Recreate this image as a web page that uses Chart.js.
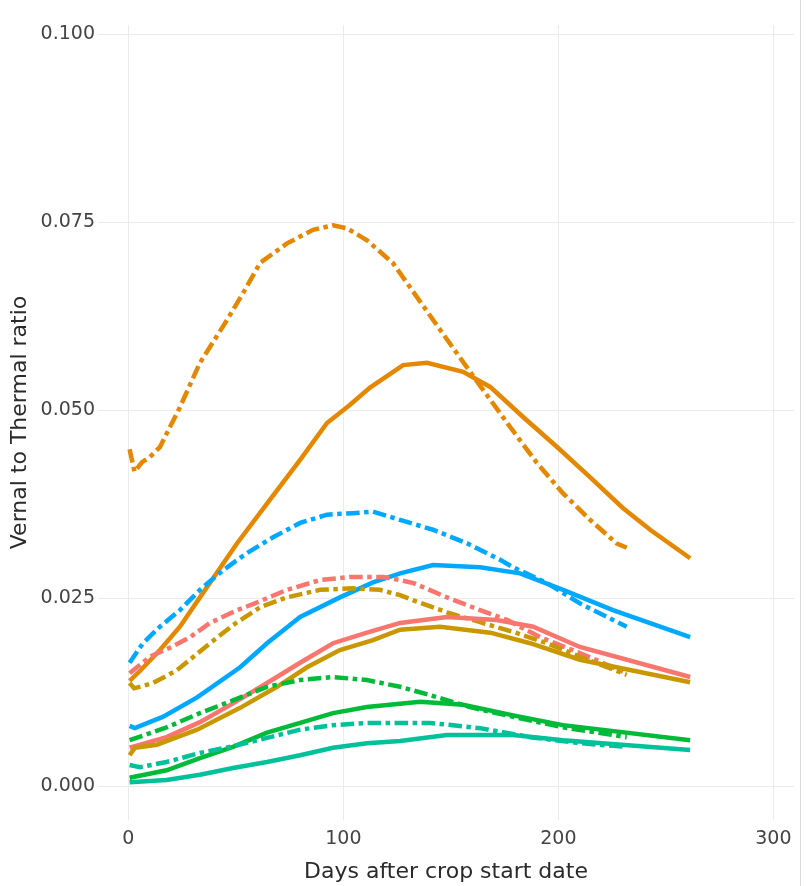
<!DOCTYPE html>
<html>
<head>
<meta charset="utf-8">
<script src="https://cdn.jsdelivr.net/npm/chart.js@4"></script>
<style>
  html, body { margin: 0; padding: 0; background: #fff; }
  #wrap { width: 806px; height: 886px; }
</style>
</head>
<body>
<div id="wrap"><canvas id="ratioChart" width="806" height="886"></canvas></div>
<script>
// days after crop start date / vernal:thermal ratio
const orangeDashX = [0.6, 2.9, 6.4, 10.1, 14.7, 24, 33.3, 45.9, 53.4, 61.3, 73.8, 85.9, 95.2, 101.7, 111, 123, 145, 157.5, 165, 177.5, 190, 202, 214.8, 227, 231.8];
const orangeDashY = [0.0448, 0.0418, 0.0431, 0.0438, 0.0451, 0.0504, 0.0563, 0.0620, 0.0656, 0.0696, 0.0722, 0.0740, 0.0746, 0.0742, 0.0726, 0.0696, 0.0607, 0.0557, 0.0527, 0.0478, 0.0430, 0.0390, 0.0354, 0.0323, 0.0317];

const orangeX = [0.6, 5.4, 14.7, 24, 33.3, 50.6, 65.9, 79.9, 92.4, 103, 112.4, 127.8, 138.9, 155.7, 168.3, 183.6, 199.4, 214.7, 230, 242.7, 261.3];
const orangeY = [0.0140, 0.0153, 0.0181, 0.0212, 0.0251, 0.0323, 0.0381, 0.0434, 0.0483, 0.0507, 0.0530, 0.0560, 0.0563, 0.0551, 0.0531, 0.0491, 0.0451, 0.0411, 0.0370, 0.0341, 0.0303];

const blueDashX = [0.6, 6.8, 14.7, 24, 33.3, 44, 55.2, 67.3, 79.9, 92.4, 104.5, 113.8, 126.4, 141.7, 157.5, 172.9, 179, 194.7, 210, 231.8];
const blueDashY = [0.0164, 0.0190, 0.0212, 0.0234, 0.0261, 0.0287, 0.0310, 0.0331, 0.0350, 0.0361, 0.0363, 0.0365, 0.0354, 0.0341, 0.0323, 0.0301, 0.0291, 0.0270, 0.0243, 0.0212];

const blueX = [0.6, 3, 16, 32, 52, 64.5, 79.9, 98.4, 113.8, 126.4, 141.7, 163.6, 182.2, 202.2, 225.4, 261.3];
const blueY = [0.0080, 0.0077, 0.0092, 0.0118, 0.0158, 0.0190, 0.0225, 0.0251, 0.0271, 0.0283, 0.0294, 0.0291, 0.0283, 0.0261, 0.0234, 0.0198];

const salmonDashX = [0.6, 10, 20.8, 28.7, 38, 50.6, 58, 73.8, 89.2, 103, 118.5, 126.4, 132.6, 148.2, 163.6, 176.1, 191.5, 210, 231.8];
const salmonDashY = [0.0150, 0.0172, 0.0186, 0.0198, 0.0217, 0.0234, 0.0242, 0.0261, 0.0274, 0.0278, 0.0278, 0.0274, 0.0270, 0.0251, 0.0234, 0.0221, 0.0198, 0.0177, 0.0150];

const goldDashX = [0.6, 2.7, 11.5, 22.6, 38, 48.7, 61.3, 73.8, 89.2, 104.5, 117, 126.4, 132.6, 148.2, 163.6, 179, 194.7, 210, 231.8];
const goldDashY = [0.0137, 0.0130, 0.0137, 0.0154, 0.0190, 0.0214, 0.0238, 0.0251, 0.0261, 0.0263, 0.0261, 0.0254, 0.0247, 0.0231, 0.0218, 0.0205, 0.0190, 0.0172, 0.0148];

const salmonX = [0.6, 17.8, 33.3, 48.7, 64.5, 79.9, 95.2, 111, 126.4, 148.2, 171.4, 188.3, 210, 261.3];
const salmonY = [0.0051, 0.0065, 0.0085, 0.0110, 0.0137, 0.0164, 0.0190, 0.0204, 0.0217, 0.0225, 0.0221, 0.0212, 0.0185, 0.0145];

const goldX = [0.6, 3.1, 13.3, 32, 52, 69.2, 83.1, 98.4, 113.8, 126.4, 145, 168.3, 186.9, 210, 261.3];
const goldY = [0.0041, 0.0051, 0.0055, 0.0075, 0.0104, 0.0132, 0.0158, 0.0181, 0.0194, 0.0208, 0.0212, 0.0204, 0.0190, 0.0168, 0.0138];

const greenDashX = [0.6, 17.8, 33.3, 48.7, 64.5, 79.9, 95.2, 111, 126.4, 140.3, 158.9, 179, 202.2, 231.8];
const greenDashY = [0.0061, 0.0078, 0.0097, 0.0114, 0.0132, 0.0141, 0.0145, 0.0141, 0.0132, 0.0121, 0.0105, 0.0092, 0.0078, 0.0065];

const greenX = [0.6, 17.8, 33.3, 48.7, 64.5, 79.9, 95.2, 111, 135.7, 155.7, 179, 202.2, 261.3];
const greenY = [0.0011, 0.0021, 0.0037, 0.0052, 0.0071, 0.0084, 0.0097, 0.0105, 0.0112, 0.0108, 0.0094, 0.0081, 0.0061];

const tealDashX = [0.6, 5.4, 17.8, 33.3, 48.7, 64.5, 79.9, 95.2, 111, 140.3, 163.6, 186.9, 210, 231.8];
const tealDashY = [0.0028, 0.0025, 0.0032, 0.0044, 0.0053, 0.0064, 0.0075, 0.0081, 0.0084, 0.0084, 0.0077, 0.0065, 0.0057, 0.0052];

const tealX = [0.6, 17.8, 33.3, 48.7, 64.5, 79.9, 95.2, 111, 126.4, 148.2, 179, 202.2, 261.3];
const tealY = [0.0005, 0.0008, 0.0015, 0.0024, 0.0032, 0.0041, 0.0051, 0.0057, 0.0060, 0.0068, 0.0068, 0.0061, 0.0048];

const xTicks = [0, 100, 200, 300];
const yTicks = [0, 0.025, 0.05, 0.075, 0.1];

const DASHDOT = [13.5, 4.5, 4.5, 4.5];

function series(xs, ys, color, dashed) {
    return {
        data: xs.map((x, i) => ({ x: x, y: ys[i] })),
        borderColor: color,
        borderWidth: 4.5,
        borderDash: dashed ? DASHDOT : [],
        pointRadius: 0,
        tension: 0,
        fill: false
    };
}

const datasets = [
    series(tealX, tealY, '#00C19A', false),
    series(tealDashX, tealDashY, '#00C19A', true),
    series(greenX, greenY, '#00BA38', false),
    series(greenDashX, greenDashY, '#00BA38', true),
    series(goldX, goldY, '#C99800', false),
    series(salmonX, salmonY, '#F8766D', false),
    series(goldDashX, goldDashY, '#C99800', true),
    series(salmonDashX, salmonDashY, '#F8766D', true),
    series(blueX, blueY, '#00A9FF', false),
    series(blueDashX, blueDashY, '#00A9FF', true),
    series(orangeX, orangeY, '#E58700', false),
    series(orangeDashX, orangeDashY, '#E58700', true)
];

// thin frame line at the right edge of the picture
const rightFrame = {
    id: 'rightFrame',
    afterDraw(chart) {
        const ctx = chart.ctx;
        ctx.save();
        ctx.strokeStyle = '#d9d9d9';
        ctx.lineWidth = 1;
        ctx.beginPath();
        ctx.moveTo(800.5, 0);
        ctx.lineTo(800.5, 886);
        ctx.stroke();
        ctx.restore();
    }
};

new Chart(document.getElementById('ratioChart'), {
    type: 'line',
    data: { datasets: datasets },
    options: {
        responsive: false,
        animation: false,
        layout: { padding: { left: 0, right: 12, top: 25, bottom: 0 } },
        plugins: { legend: { display: false }, tooltip: { enabled: false } },
        scales: {
            x: {
                type: 'linear',
                min: -14.1,
                max: 309.6,
                afterBuildTicks: (scale) => { scale.ticks = xTicks.map(v => ({ value: v })); },
                afterFit: (scale) => { scale.height = 66; },
                grid: { color: '#ebebeb', lineWidth: 1, drawTicks: false },
                border: { display: false },
                ticks: {
                    padding: 8,
                    color: '#444',
                    font: { family: 'DejaVu Sans', size: 19 },
                    callback: (v) => String(v)
                },
                title: {
                    display: true,
                    text: 'Days after crop start date',
                    color: '#2a2a2a',
                    font: { family: 'DejaVu Sans', size: 22 },
                    padding: { top: 0, bottom: 1 }
                }
            },
            y: {
                min: -0.00452,
                max: 0.10125,
                afterBuildTicks: (scale) => { scale.ticks = yTicks.map(v => ({ value: v })); },
                afterFit: (scale) => { scale.width = 98; },
                grid: { color: '#ebebeb', lineWidth: 1, drawTicks: false },
                border: { display: false },
                ticks: {
                    padding: 3,
                    color: '#444',
                    font: { family: 'DejaVu Sans', size: 19 },
                    callback: (v) => Number(v).toFixed(3)
                },
                title: {
                    display: true,
                    text: 'Vernal to Thermal ratio',
                    color: '#2a2a2a',
                    font: { family: 'DejaVu Sans', size: 22 },
                    padding: { top: 7, bottom: 0 }
                }
            }
        }
    },
    plugins: [rightFrame]
});
</script>
</body>
</html>
